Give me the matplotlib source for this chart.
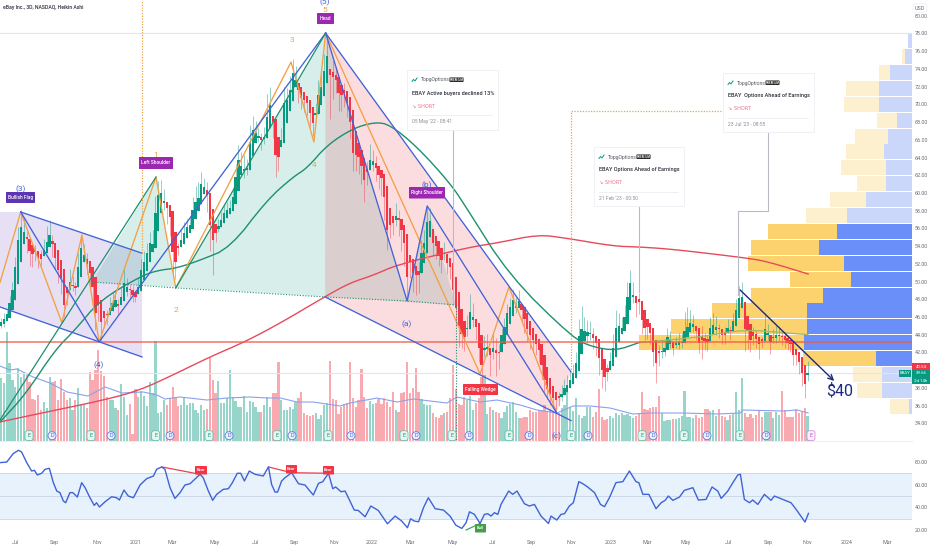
import matplotlib
matplotlib.use("Agg")
import matplotlib.pyplot as plt
from matplotlib.patches import FancyBboxPatch, Polygon, Rectangle

plt.rcParams['font.family'] = ['Roboto', 'DejaVu Sans']

# ---------- data ----------
closes = [
 45.4,45.8,46.3,47.6,49.0,51.6,54.7,56.2,55.6,54.8,
 53.4,53.1,53.3,52.7,52.6,53.6,54.5,55.3,54.2,52.7,
 51.3,50.4,47.4,48.7,49.9,49.6,49.3,51.6,53.8,53.0,
 52.0,51.0,49.4,46.5,47.3,45.4,45.9,46.2,47.0,47.6,
 47.9,47.2,48.3,49.8,49.4,49.0,48.5,48.3,49.4,51.3,
 52.2,53.2,54.4,54.2,57.7,59.8,60.0,59.0,58.3,57.3,
 53.3,52.2,53.8,54.7,55.5,56.1,56.4,58.1,59.0,59.4,
 61.0,60.7,59.8,56.4,54.7,55.5,56.3,57.0,57.7,58.1,
 58.3,59.5,61.8,63.7,63.0,62.7,62.6,65.8,67.1,66.8,
 66.3,66.0,66.2,68.6,69.9,68.0,64.3,64.1,66.0,70.2,
 70.5,71.6,73.5,72.8,71.6,70.7,70.5,70.1,69.0,67.9,
 69.0,71.0,72.0,73.8,75.5,73.3,73.1,72.8,71.3,71.1,
 71.3,70.2,68.0,64.5,64.3,64.1,63.0,61.5,62.4,63.7,
 63.6,62.8,62.0,61.7,59.5,55.8,56.4,56.6,57.4,56.9,
 55.8,54.4,50.5,52.2,51.0,50.7,50.7,53.2,54.4,56.7,
 56.8,54.4,54.0,52.9,52.4,53.2,52.1,51.6,49.0,47.0,
 45.0,44.1,43.7,44.8,46.6,46.0,44.9,42.5,40.6,42.4,
 42.6,41.7,42.5,41.9,41.9,44.0,44.9,46.5,47.1,47.9,
 47.1,47.8,46.8,45.8,44.6,44.0,43.4,43.0,42.3,40.6,
 38.9,37.9,37.3,36.8,36.6,36.9,37.3,38.0,38.3,38.9,
 39.7,40.8,43.8,44.6,44.4,44.3,44.2,43.6,43.1,41.4,
 40.0,39.2,39.8,41.0,42.5,44.8,45.0,44.8,46.0,48.3,
 49.8,48.5,47.6,47.7,45.7,44.8,44.9,44.2,42.1,40.8,
 41.9,42.1,42.5,43.7,43.4,42.5,42.9,43.2,43.2,44.4,
 44.9,45.3,45.2,44.4,43.1,43.4,43.3,43.2,44.8,45.1,
 44.9,44.6,44.0,44.0,44.8,44.4,45.5,46.8,48.1,48.3,
 44.6,44.4,43.4,43.8,43.5,42.9,43.3,44.6,44.0,43.2,
 43.6,44.0,44.0,43.7,43.4,43.1,42.9,41.7,41.7,40.9,
 39.7,38.4,39.66]
wicks = [
 .5,.6,.5,.8,1,1.2,1.4,1.9,1.6,1.6,
 1.6,1.5,1,1.2,1,1.2,1.8,1.6,1.4,1.4,
 1.5,1.8,1.4,1.4,1.5,1,.8,1.6,1.3,1.2,
 1.2,1.5,2,2,1.8,2.2,1.2,1.1,1.2,1.2,
 1,1,1.2,1.6,1,1,.8,.6,1,1.3,
 1.2,1.2,1.2,1.6,2.0,1.5,1.5,1.5,1.8,2.2,
 2.4,1.9,.8,1.2,1.2,1,1,1.4,1.8,1.8,
 1.4,1,2,3,4,1,.8,.8,1,.9,
 .9,1.2,1.5,1.7,1.6,1.6,1.2,1.9,1.6,1.3,
 1,1.1,1.2,2.6,2.1,1.8,2.5,1.6,1.3,1.8,
 1.4,1.6,1.6,1.5,1.5,1.2,1.4,1.4,1.6,1.5,
 1.2,1.8,1.6,1.9,1.8,5,2.5,1.5,2.0,1.8,
 1.6,1.6,1.8,2.0,1.8,2,2,2.5,1.5,1.8,
 1.2,1.5,1.5,2,2.5,2.2,1.5,1.4,1.5,1.8,
 2.4,2.6,2.2,1.8,2.2,2.2,2.0,1.5,1.4,1.6,
 1.5,1.5,1.5,1.2,1.4,1.3,1.2,1.3,1.6,2,
 2.4,1.6,1.5,1.4,2,1.6,1.5,1.6,2,1.5,
 1.5,2.4,1.6,2.6,1.8,.8,1,1,1,1.3,
 1.2,1.3,1.2,1.6,1.3,1.6,1.5,1.3,1.4,1.6,
 1.4,1.2,1.2,.9,.9,.9,1.0,1.0,1.2,1.0,
 1,1.2,2.0,2.6,1.6,1.4,1.3,1.2,1.5,2,
 2,1.6,1,1,1.6,2,1.4,1.2,1.4,1.7,
 1.5,1.4,1.6,1.4,1.6,1.4,1.4,1.2,1.6,2.2,
 1.4,1.2,.9,1,1,.8,.8,1,1,2.2,
 2.2,1.5,1,1,1.2,2.2,1,1,1.2,1.4,
 1.2,1,1,1,1,1,1,1.2,1.4,1.6,
 2.4,2,1.4,1,1,1.6,.8,1.8,1.2,1.4,
 1,1,1,.9,.9,.8,.8,1.1,1.1,1.3,
 1.5,1.5,1.4]
volumes = [
 63,58,109,78,61,54,73,64,
 69,66,59,42,41,46,31,39,33,64,
 59,60,41,62,49,41,43,31,41,53,
 37,36,33,69,61,71,91,70,65,44,
 41,41,33,31,57,44,26,37,7,52,
 44,50,45,35,59,48,100,28,29,41,
 36,43,54,44,35,36,44,36,38,38,
 31,28,36,31,32,83,61,48,60,38,
 38,43,71,44,40,34,34,45,29,40,
 39,34,29,29,36,44,34,48,48,79,
 41,31,31,34,32,39,43,49,28,26,
 25,26,28,22,26,36,38,80,42,41,
 27,34,37,38,79,43,34,41,72,44,
 33,40,37,38,42,37,43,39,34,49,
 31,29,48,49,79,48,53,73,49,42,
 37,36,36,28,24,23,26,28,29,43,
 76,52,37,36,44,41,45,31,38,43,
 64,66,27,34,31,29,28,23,29,35,
 37,39,29,23,23,24,24,31,29,29,
 31,31,36,30,32,30,33,28,33,36,
 51,34,30,43,26,23,25,34,34,24,
 29,52,24,21,22,25,23,28,26,28,
 26,27,25,23,25,28,49,32,31,33,
 34,34,45,28,20,21,21,22,22,23,
 25,50,24,24,23,26,23,24,32,32,
 30,31,25,32,25,24,21,26,27,49,
 31,63,28,24,27,23,26,31,24,29,
 29,29,23,29,26,50,31,24,24,24,
 32,28,29,33,25]
assert len(closes) == len(wicks) == len(volumes) == 283, (len(closes), len(wicks), len(volumes))

vol_ma_x = [-.35,3.1,5.6,11.2,17.1,23.1,30.4,36.4,42.3,49.7,54.5,57.3,62.6,72,79,87.1,93,97.6,103.5,109.1,118.5,122,131.5,138.5,144.1,155.9,159.4,167.5,173.4,181.5,187.4,194.4,200,206,212.9,221,226.9,238.5,250.3,258.4,259.4,273.4,278.3,282.2]
vol_ma_y = [75,71,72,64,58,49,45,54,48,49,46,42,44,41,43,44,43,43,39,39,35,38,43,39,42,38,44,39,41,36,31,28,35,35,33,27,28,28,27,28,31,30,31,28]

ema_g_x = [-.35,8.4,18.9,25.9,34.6,49.7,55.6,61.2,69.6,80.1,93,102.1,107,114,123.1,130.8,136,145.5,157,162.6,177.6,200,207,215,223]
ema_g_y = [34.15,37.2,42.28,44.54,47.9,50.75,51.3,51.5,52.4,53.8,59.2,61.8,62.8,65.4,67.3,68,67.7,65.2,61.1,58.4,50.7,43.6,42.6,42.2,43.1]
ema_g2_x = [223,244,259.4,274.5,282.2]
ema_g2_y = [43.1,43.7,44.6,44.2,44]
ema_r_x = [-.35,11.2,37.1,48.6,60.1,73.1,85.3,97.6,113.3,122,130.1,138.5,162.6,174.1,187.8,197.6,214,223.1,232.5,244,259.4,267.5,282.2]
ema_r_y = [34.15,34.95,36.7,37.75,39.45,41.5,43.2,45.3,48.3,49.85,50.7,51.9,53.8,54.4,55.3,54.9,54.0,53.9,53.7,53.3,52.7,52.3,50.85]

rsi_x = [-.35,2,4.3,6.1,7.2,9,10.7,11.7,12.7,14.2,15.4,16.9,18.3,19.5,20.6,21.8,22.6,24.1,25.1,26.7,28.2,29.4,31.1,32.6,33.4,34.4,36.4,38.7,40.4,41.4,43,44.5,46.3,48.6,50.9,53.3,54.4,56.2,57.3,59.1,60.8,62.6,64.3,66.1,69.6,70.7,72.5,74,75.4,77.7,79.5,80.9,82.6,83.8,85.1,86.8,88.8,91.7,93.5,94.6,95.8,96.7,98.1,99.3,101.6,104,106.3,108,109.2,111,112.5,114.5,116,117,118.9,120.3,122,123.5,124.9,127.3,129.3,131.9,135.1,137.8,140.1,142.1,143.2,144.5,146,147.7,149.4,151.8,154.7,157,159,161.1,
 162.6,163.8,165.5,167.5,169,170.2,171.3,172.5,173.7,174.8,177.5,178.9,180.4,183,184.7,186.5,188.8,191.4,192.3,194.3,195.8,197,198.7,200.1,202,203.4,205.1,207.5,209.6,211,212.7,215,217.4,219.7,222,223,224.4,226.5,229,230.8,232.2,233.3,234.9,237.2,238.9,241.9,243.8,246.5,248.6,250.6,251.8,254.1,255.5,257.6,258.5,259.9,261.7,262.8,264.6,266.9,269.2,270.4,273.3,276.2,278,281.1,282.3]
rsi_v = [79.5,80,87.5,90.4,88.9,79.5,72.1,72.7,68.6,70.1,73.6,74.5,61.8,54.4,53,45.6,44.1,53,53,49.1,61.8,57.4,48.5,41.7,44.1,40.3,45,49.4,48.5,46.5,55.3,50,48.5,59.7,65.3,67.7,73.6,75.7,73.6,57.4,47.9,53,59.7,60.9,69.2,66.2,54.4,46.2,51.5,55.9,56.5,61.8,70.1,70.1,63.3,72.1,69.2,67.7,75.7,60.3,53.5,53.5,63.3,66.2,70.6,60.9,59.7,54.4,50.9,61.2,62.7,70.1,56.5,58,53.8,54.4,45.6,37.6,37.3,31.7,41.2,37.3,25.5,32.3,27.9,22,29.9,27.9,27.3,39.7,48.5,38.8,37.6,32.3,24.3,21.4,
 26.4,36.1,33.8,25.8,33.8,34.4,32.3,35.3,33.8,42.6,54.4,51.5,54.4,43.2,41.2,42.6,32.3,25.8,32.3,28.8,33.8,34.4,41.2,44.1,62.7,60.9,58,53,42.6,40.6,48.5,61.8,62.7,72.1,62.7,61.8,51.5,51.5,38.8,44.1,46.2,50,46.2,49.1,55,57.4,46.5,47,58,54.4,47.9,54.4,60.3,68.6,69.2,47,44.1,46.5,42.6,51.5,46.2,50,47,44.1,38.2,27,34.7]

vp_up =   [4,7,22,33,33,15,24,28,26,26,46,65,75,93,68,61,89,105,105,108,36,30,30,3]
vp_down = [0,3,11,33,35,20,33,38,45,29,36,41,69,68,96,61,72,95,136,165,73,29,25,19]
vp_strong = [False]*12 + [True]*9 + [False]*3
vp_top = 78.09
vp_step = 1.795

xtick_pos = [4.9,18.5,33.6,47.2,59.8,74.8,88.8,102.4,116.4,129.7,143,157.7,171.7,185.3,199.3,213.3,225.9,239.5,254.2,268.2,281.8,295.8,309.8]
xtick_lab = ['Jul','Sep','Nov','2021','Mar','May','Jul','Sep','Nov','2022','Mar','May','Jul','Sep','Nov','2023','Mar','May','Jul','Sep','Nov','2024','Mar']
price_ticks = list(range(34, 82, 2))
rsi_ticks = [20, 40, 60, 80]

# drawing-tool pivots (bar, price)
orange_x = [-.35,6.9,21.3,28.3,34.3,54.2,61.1,101.4,109.4,113.5,167.5,177.6,194.2]
orange_y = [49.9,57.85,45.33,55.26,43.18,61.8,49.28,74.78,65.75,78.05,39.57,49.39,35.22]

GREEN, RED = '#089981', '#f23645'
BLUE, ORANGE, LINEG = '#4362d9', '#f2a045', '#1c9070'
TXT, GREY = '#2a2e39', '#6a6d78'


def smooth(xs, ys, rounds=2):
    """Corner-cutting so that a hand-read average line is drawn as a curve."""
    pts = list(zip(xs, ys))
    for _ in range(rounds):
        new = [pts[0]]
        for a, b in zip(pts[:-1], pts[1:]):
            new.append((.75*a[0]+.25*b[0], .75*a[1]+.25*b[1]))
            new.append((.25*a[0]+.75*b[0], .25*a[1]+.75*b[1]))
        new.append(pts[-1])
        pts = new
    return [p[0] for p in pts], [p[1] for p in pts]


# ---------- figure ----------
fig = plt.figure(figsize=(9.32, 5.5), dpi=100, facecolor='white')
W, H = 932, 550
rect_main = [0, (H-441)/H, 912/W, 441/H]
rect_rsi = [0, (H-535)/H, 912/W, 94/H]
XLIM = (-.35, 318.5)
YLIM = (32.0, 81.78)

ax_vp = fig.add_axes(rect_main, zorder=1)
ax_vol = fig.add_axes(rect_main, zorder=2, facecolor='none')
ax = fig.add_axes(rect_main, zorder=3, facecolor='none')
ax_rsi = fig.add_axes(rect_rsi, zorder=1)
ui = fig.add_axes([0, 0, 1, 1], zorder=10, facecolor='none')
ui.set_xlim(0, W); ui.set_ylim(H, 0); ui.axis('off')

# volume profile
ax_vp.set_xlim(912, 0); ax_vp.set_ylim(*YLIM); ax_vp.axis('off')
for k, (u, d, s) in enumerate(zip(vp_up, vp_down, vp_strong)):
    c = vp_top - (k + .5) * vp_step
    ax_vp.barh(c, u, height=vp_step*.94, color='#6b8ff8' if s else '#cad7fb', lw=0)
    ax_vp.barh(c, d, left=u, height=vp_step*.94, color='#fbd26e' if s else '#fdf0cf', lw=0)

# volume
bars = list(range(len(closes)))
opens = []
o = 45.0
for i, c in enumerate(closes):
    opens.append(o)
    o = (o + c) / 2
vc = [GREEN if closes[i] >= opens[i] else RED for i in bars]
ax_vol.set_xlim(*XLIM); ax_vol.set_ylim(0, 441); ax_vol.axis('off')
ax_vol.bar(bars, volumes, width=.78, color=vc, alpha=.42, lw=0)
ax_vol.plot(vol_ma_x, vol_ma_y, color='#8aa2ee', lw=.8)

# price pane
ax.set_xlim(*XLIM); ax.set_ylim(*YLIM)
for s in ax.spines.values():
    s.set_visible(False)
ax.set_xticks([])
ax.yaxis.tick_right()
ax.set_yticks(price_ticks)
ax.set_yticklabels([f'{p:.2f}' for p in price_ticks], fontsize=3.9, color=GREY)
ax.tick_params(axis='y', length=0, pad=2)

# pattern fills
ax.add_patch(Polygon([(-.35,57.85),(6.9,57.85),(49.3,53.2),(49.3,41.49),(-.35,47.13)], fc='#7e57c2', alpha=.18, lw=0, zorder=1))
ax.add_patch(Polygon([(31.8,49.95),(54.2,61.8),(61.1,49.28),(113.5,78.05),(142,47.8),(149,58.53),(159,47.36)], fc=GREEN, alpha=.16, lw=0, zorder=1))
ax.add_patch(Polygon([(113.5,78.05),(199.3,39.8),(194.2,35.22),(113.3,48.26)], fc=RED, alpha=.17, lw=0, zorder=1))

ax.axhline(39.7, color='#e3e5ea', lw=.8, zorder=1)
ax.axhline(78.05, color='#e3e5ea', lw=.8, zorder=1)

# candles
for i in bars:
    o, c, w = opens[i], closes[i], wicks[i]
    col = vc[i]
    lo, hi = min(o, c), max(o, c)
    wt = hi + w if c >= o else hi + (w*.5 if hi-lo < .6 else 0)
    wb = lo - w if c < o else lo - (w*.5 if hi-lo < .6 else 0)
    ax.plot([i, i], [wb, wt], color=col, lw=.7, alpha=.45, zorder=3, solid_capstyle='butt')
    ax.bar(i, max(hi-lo, .18), bottom=lo, width=.8, color=col, lw=0, zorder=4)

# averages
ax.plot(*smooth(ema_g_x, ema_g_y), color=LINEG, lw=1.0, zorder=5)
ax.plot(*smooth(ema_g2_x, ema_g2_y), color='#a3b85e', lw=.9, zorder=5)
ax.plot(*smooth(ema_r_x, ema_r_y), color='#e64a5c', lw=1.0, zorder=5)
ax.axhline(43.2, color='#ef5a4c', lw=1.1, alpha=.85, zorder=5)

# drawing tools
ax.plot(orange_x, orange_y, color=ORANGE, lw=.95, zorder=6)
for xs, ys in [
    ([6.9,49.3],[57.85,53.2]), ([-.35,49.3],[47.13,41.49]),
    ([6.9,34.3,113.5],[57.85,43.18,78.05]),
    ([113.5,142,149,194.2],[78.05,47.8,58.53,35.22]),
    ([113.5,199.3],[78.05,39.8]), ([113.3,199.3],[48.26,34.3])]:
    ax.plot(xs, ys, color=BLUE, lw=.95, zorder=6)
ax.plot([-.35,54.2],[34.38,61.8], color=LINEG, lw=.9, zorder=6)
ax.plot([61.1,113.5],[49.28,78.05], color=LINEG, lw=.9, zorder=6)
ax.plot([31.8,61.1,113.3,142,159],[49.95,49.28,48.26,47.8,47.36], color=LINEG, lw=.8, ls=(0,(1,1.5)), zorder=6)
ax.plot([49.3,49.3],[53.2,81.78], color=ORANGE, lw=.9, ls=(0,(1,1.2)), zorder=6)
ax.plot([199.3,199.3,252.5],[39.8,69.2,69.2], color=ORANGE, lw=.9, ls=(0,(1,1.2)), zorder=6)
ax.plot([159,159],[47.36,32.0], color=LINEG, lw=.8, ls=(0,(1,1.5)), zorder=6)
ax.annotate('', xy=(291.3,38.78), xytext=(258.4,49.05),
            arrowprops=dict(arrowstyle='->', color='#1b2a80', lw=1.0, shrinkA=0, shrinkB=0, mutation_scale=9), zorder=7)

# RSI pane
ax_rsi.set_xlim(*XLIM); ax_rsi.set_ylim(15.6, 98.6)
for s in ax_rsi.spines.values():
    s.set_visible(False)
ax_rsi.axhspan(30, 70, color='#e7f2fc', lw=0, zorder=0)
for lv in (30, 50, 70):
    ax_rsi.axhline(lv, color='#c9d5e5', lw=.6, zorder=1)
ax_rsi.plot(rsi_x, rsi_v, color='#3f63d6', lw=1.0, zorder=3)
ax_rsi.plot([56.2,69.6],[75.7,69.2], color='#e9424f', lw=.9, zorder=2)
ax_rsi.plot([93.5,101.6,114.5],[75.7,70.6,70.1], color='#e9424f', lw=.9, zorder=2)
ax_rsi.plot([162.6,167.5],[20,25.8], color='#3da756', lw=.9, zorder=2)
ax_rsi.yaxis.tick_right()
ax_rsi.set_yticks(rsi_ticks)
ax_rsi.set_yticklabels([f'{v:.2f}' for v in rsi_ticks], fontsize=3.9, color=GREY)
ax_rsi.set_xticks(xtick_pos)
ax_rsi.set_xticklabels(xtick_lab, fontsize=3.9, color=GREY)
ax_rsi.tick_params(axis='both', length=0)
ax_rsi.tick_params(axis='y', pad=2)
ax_rsi.tick_params(axis='x', pad=3.5)

# ---------- interface ----------
ui.plot([0, 912], [441, 441], color='#eceef2', lw=.7)


def label(x0, y0, x1, y1, txt, fc, fs=3.5):
    ui.add_patch(FancyBboxPatch((x0+.6, y0+.6), x1-x0-1.2, y1-y0-1.2, boxstyle='round,pad=0.6', fc=fc, ec='none', zorder=8))
    ui.text((x0+x1)/2, (y0+y1)/2, txt, color='white', fontsize=fs, ha='center', va='center', fontweight='medium', zorder=9)


label(6, 192, 35, 203, 'Bullish Flag', '#5e35b1')
label(139, 157, 173, 169, 'Left Shoulder', '#9c27b0')
label(317, 13, 334, 24, 'Head', '#9c27b0')
label(409, 187, 445, 198.5, 'Right Shoulder', '#9c27b0')
label(463, 384, 498, 395, 'Falling Wedge', RED)
label(195, 466, 207, 474.5, 'Bear', RED, 3.1)
label(286, 465, 297, 473.5, 'Bear', RED, 3.1)
label(323, 466, 334, 474.5, 'Bear', RED, 3.1)
label(475, 524, 486, 532.5, 'Bull', '#43a047', 3.1)

for x, y, t, c in [(20.5,189,'(3)',BLUE),(156,155,'1',ORANGE),(175.7,310,'2',ORANGE),(291.5,40,'3',ORANGE),
                   (314,165,'4',ORANGE),(325,10,'5',ORANGE),(325,2,'(5)',BLUE),(99,365,'(4)',BLUE),
                   (407,324,'(a)',BLUE),(427,185,'(b)',BLUE),(557,436,'(c)',BLUE)]:
    ui.text(x, y, t, color=c, fontsize=6, ha='center', va='center', zorder=8)

ui.text(3, 7.5, 'eBay Inc., 3D, NASDAQ, Heikin Ashi', fontsize=3.7, color=TXT, va='center', fontweight='medium')
ui.text(920, 8, 'USD', fontsize=3.9, color=GREY, ha='center', va='center',
        bbox=dict(boxstyle='round,pad=0.3', fc='white', ec='#eceef2', lw=.5))
ui.text(839.5, 391, '$40', fontsize=11.5, color='#1b2a80', ha='center', va='center')


def card(x0, y0, x1, y1, title, date):
    ui.add_patch(Rectangle((x0, y0), x1-x0, y1-y0, fc='white', ec='#f0f1f4', lw=.7, zorder=8))
    xt = x0 + 5
    ui.plot([xt, xt+1.5, xt+3, xt+5], [y0+11.5, y0+9.5, y0+11, y0+8], color=GREEN, lw=.7, zorder=9)
    ui.text(xt+9, y0+10, 'TopgOptions', fontsize=3.6, color='#555964', va='center', zorder=9)
    ui.add_patch(FancyBboxPatch((xt+38, y0+8), 13, 3.4, boxstyle='round,pad=0.5', fc='#111', ec='none', zorder=9))
    ui.text(xt+44.5, y0+9.8, 'PREMIUM', fontsize=2.2, color='white', ha='center', va='center', fontweight='bold', zorder=10)
    ui.text(x0+5, y0+23, title, fontsize=3.95, color=TXT, va='center', fontweight='medium', zorder=9)
    ui.text(x0+5, y0+36, '↘ SHORT', fontsize=3.6, color='#f0708a', va='center', zorder=9, family=['DejaVu Sans'])
    ui.plot([x0+5, x1-6], [y0+44.5, y0+44.5], color='#e8e9ed', lw=.5, zorder=9)
    ui.text(x0+5, y0+52, date, fontsize=3.6, color='#8b8e98', va='center', zorder=9)


card(407, 70, 498, 130, 'EBAY Active buyers declined 13%', "05 May '22 - 08:41")
card(594, 147, 684, 206, 'EBAY Options Ahead of Earnings', "21 Feb '23 - 00:50")
card(723, 73, 814, 132, 'EBAY  Options Ahead of Earnings', "23 Jul '23 - 08:55")
ui.plot([452.5, 452.5], [130, 303], color='#b8bbc3', lw=.8, zorder=6)
ui.plot([639, 639], [206, 292], color='#b8bbc3', lw=.8, zorder=6)
ui.plot([768, 768, 738, 738], [132, 211, 211, 295], color='#b8bbc3', lw=.8, zorder=6)

# price tags
for y0, y1, tx, fc in [(363, 370, '40.54', '#f23645'), (370, 377, '39.66', GREEN), (377, 384, '2d 14h', GREEN)]:
    ui.add_patch(Rectangle((912, y0), 18, y1-y0, fc=fc, ec='none', zorder=9))
    ui.text(921, (y0+y1)/2, tx, fontsize=3.2, color='white', ha='center', va='center', zorder=10)
ui.add_patch(Rectangle((899, 370), 12, 7, fc=GREEN, ec='none', zorder=9))
ui.text(905, 373.5, 'EBAY', fontsize=3.2, color='white', ha='center', va='center', zorder=10)

# earnings / dividend icons
E_px = [29,91,155.7,209,277,328,404,452,509,571,642,684,740]
D_px = [52,111,170,229,292,351,416,469,529,588,653,707,766]
for x in E_px:
    ui.text(x, 435.7, 'E', fontsize=3.9, color='#089981', ha='center', va='center', zorder=9,
            bbox=dict(boxstyle='round,pad=0.45', fc='#e8f6f2', ec='#57b8a3', lw=.5))
for x in D_px:
    ui.text(x, 435.7, 'D', fontsize=3.9, color='#3f63d6', ha='center', va='center', zorder=9,
            bbox=dict(boxstyle='circle,pad=0.28', fc='#eef2fd', ec='#5c7ce0', lw=.6))
ui.text(811, 435.7, 'E', fontsize=3.9, color='#c24fd0', ha='center', va='center', zorder=9,
        bbox=dict(boxstyle='round,pad=0.45', fc='#fbf0fd', ec='#d27de0', lw=.5))

fig.savefig('out.png', dpi=100)
